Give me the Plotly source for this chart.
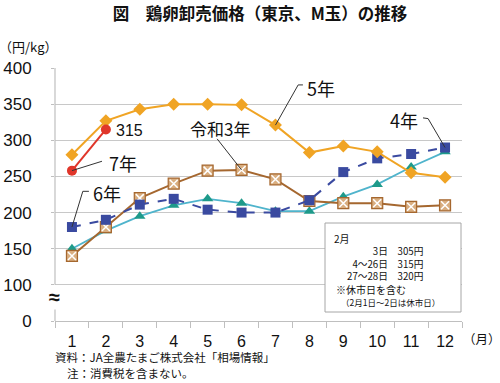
import plotly.graph_objects as go

months = list(range(1, 13))
month_labels = [str(m) for m in months]
y_tickvals = [50, 100, 150, 200, 250, 300, 350, 400]
y_ticktext = ["0", "100", "150", "200", "250", "300", "350", "400"]

r5 = [280, 327, 343, 350, 350, 349, 321, 283, 292, 284, 255, 249]
r7 = [258, 315]
r3 = [140, 180, 220, 240, 258, 259, 246, 216, 213, 213, 208, 210]
r6 = [180, 190, 211, 219, 204, 200, 200, 217, 256, 275, 281, 290]
r4 = [150, 175, 195, 210, 219, 213, 202, 202, 222, 239, 263, 284]

FONT = "Liberation Sans, Arial, Noto Sans CJK JP, sans-serif"
JFONT = "Noto Sans CJK JP, sans-serif"

W, H = 500, 383
L, R, T, B = 55, 38, 68, 62
PW, PH = W - L - R, H - T - B


def px(x, y):
    return (x - L) / PW, (H - B - y) / PH


fig = go.Figure()

fig.add_trace(go.Scatter(x=months, y=r4, mode="lines+markers",
                         line=dict(color="#4FB4CC", width=1.8),
                         marker=dict(symbol="triangle-up", size=10, color="#1E9A8A")))
fig.add_trace(go.Scatter(x=months, y=r3, mode="lines+markers",
                         line=dict(color="#A5672F", width=2),
                         marker=dict(symbol="square", size=11, color="#D9AE80",
                                     line=dict(color="#A5672F", width=1.2))))
fig.add_trace(go.Scatter(x=months, y=r3, mode="markers",
                         marker=dict(symbol="x-thin-open", size=8, color="white",
                                     line=dict(color="white", width=1.5))))
fig.add_trace(go.Scatter(x=months, y=r6, mode="lines+markers",
                         line=dict(color="#3A4AA0", width=2, dash="dash"),
                         marker=dict(symbol="square", size=10, color="#3A4AA0")))
fig.add_trace(go.Scatter(x=months, y=r5, mode="lines+markers",
                         line=dict(color="#F0A424", width=2),
                         marker=dict(symbol="diamond", size=10, color="#F0A424")))
fig.add_trace(go.Scatter(x=months[:2], y=r7, mode="lines+markers",
                         line=dict(color="#E0362A", width=2),
                         marker=dict(symbol="circle", size=10, color="#E0362A")))

shapes = []
# leader lines (data coords)
leaders = [
    [(1, 258), (1.885, 271)],
    [(1, 180), (1.32, 229.4), (1.5, 229.4)],
    [(5.28, 302), (6, 259)],
    [(7, 321), (7.67, 376.6), (7.81, 376.6)],
    [(11.35, 331), (11.5, 330), (12, 290)],
]
for pts in leaders:
    path = "M " + " L ".join(f"{a},{b}" for a, b in pts)
    shapes.append(dict(type="path", path=path, xref="x", yref="y",
                       line=dict(color="#333333", width=1), layer="above"))

# axis line with break
shapes.append(dict(type="line", xref="paper", yref="y", x0=0, x1=0, y0=100, y1=400,
                   line=dict(color="#BFBFBF", width=1.2)))
shapes.append(dict(type="line", xref="paper", yref="y", x0=0, x1=0, y0=50, y1=66,
                   line=dict(color="#BFBFBF", width=1.2)))
# info box
bx0, by0 = px(325, 223)
bx1, by1 = px(461, 312)
shapes.append(dict(type="rect", xref="paper", yref="paper", x0=bx0, x1=bx1, y0=by1, y1=by0,
                   fillcolor="white", line=dict(color="#A6A6A6", width=1), layer="above"))

annotations = []


def ann(text, x, y, size, xanchor="center", font=FONT, bold=False, align="center"):
    ax, ay = px(x, y)
    if bold:
        text = f"<b>{text}</b>"
    annotations.append(dict(text=text, x=ax, y=ay, xref="paper", yref="paper", xanchor=xanchor,
                            yanchor="middle", showarrow=False, borderpad=0, align=align,
                            font=dict(size=size, color="#111111", family=font)))


ann("315", 129, 130, 16)
ann("7年", 123, 163, 18, font=JFONT)
ann("6年", 107, 193, 18, font=JFONT)
ann("令和3年", 220, 128, 17, font=JFONT)
ann("5年", 321, 88, 18, font=JFONT)
ann("4年", 404, 120, 18, font=JFONT)
ann("≈", 54, 297, 20, bold=True)
ann("（円/kg）", -2, 46, 13, xanchor="left", font=JFONT)
ann("（月）", 462, 338, 12.5, xanchor="left", font=JFONT)
ann("資料：JA全農たまご株式会社「相場情報」", 54, 357, 11.5, xanchor="left", font=JFONT)
ann("注：消費税を含まない。", 66, 373, 11.5, xanchor="left", font=JFONT)

ann("2月", 333, 238, 10, xanchor="left", font=JFONT)
ann("3日　305円<br>4～26日　315円<br>27～28日　320円", 424, 263.5, 9.7,
    xanchor="right", font=JFONT, align="right")
ann("※休市日を含む", 335, 289.5, 10, xanchor="left", font=JFONT)
ann("（2月1日～2日は休市日）", 340, 302, 8.5, xanchor="left", font=JFONT)

fig.update_layout(
    width=W, height=H,
    margin=dict(l=L, r=R, t=T, b=B, autoexpand=False),
    paper_bgcolor="white", plot_bgcolor="white",
    showlegend=False,
    title=dict(text="<b>図　鶏卵卸売価格（東京、M玉）の推移</b>", x=0.52, xanchor="center",
               y=1 - 14 / H, yanchor="middle", xref="container", yref="container",
               font=dict(size=16.5, family=JFONT, color="#111111")),
    shapes=shapes,
    annotations=annotations,
    xaxis=dict(range=[0.5, 12.5], tickvals=months, ticktext=month_labels,
               ticks="", showgrid=False, zeroline=False, automargin=False,
               showline=True, linecolor="#BFBFBF", linewidth=1.2,
               tickfont=dict(size=16, family=FONT, color="#111111"),
               ticklabelstandoff=6,
               minor=dict(tick0=0.5, dtick=1, ticks="outside", ticklen=6,
                          tickcolor="#BFBFBF", tickwidth=1.2, showgrid=False)),
    yaxis=dict(range=[50, 400], tickvals=y_tickvals, ticktext=y_ticktext,
               showgrid=True, gridcolor="#C8C8C8", gridwidth=1.2, zeroline=False,
               ticks="outside", ticklen=3, tickcolor="#BFBFBF", automargin=False,
               showline=False,
               tickfont=dict(size=17, family=FONT, color="#111111"),
               ticklabelstandoff=16),
)

fig.write_html("out.html", config={"displayModeBar": False},
               post_script="document.body.style.margin='0';document.body.style.padding='0';")
